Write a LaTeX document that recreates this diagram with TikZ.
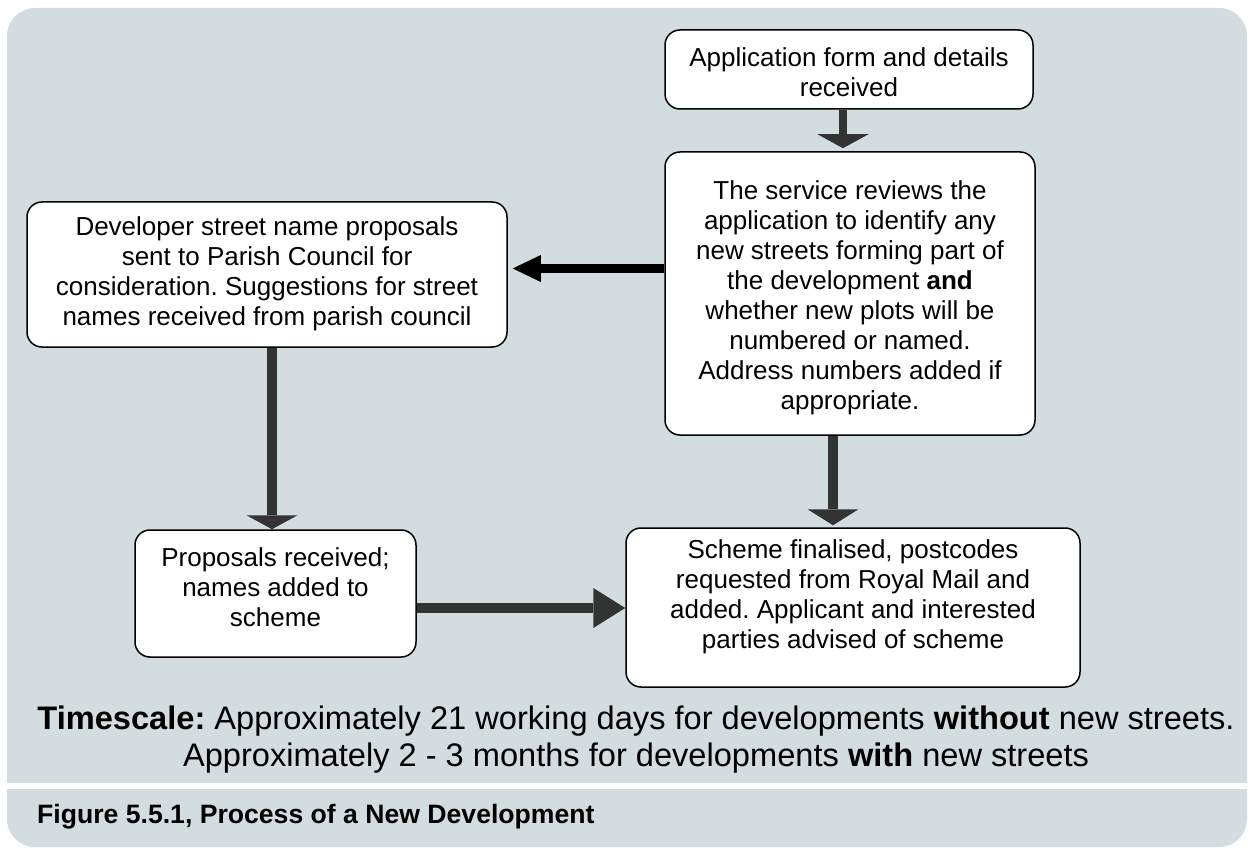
\documentclass[tikz,border=0pt]{standalone}
\usepackage{fontspec}
\setmainfont{Liberation Sans}
\usetikzlibrary{arrows.meta}
\definecolor{panel}{RGB}{211,220,222}
\definecolor{arrgray}{RGB}{51,51,51}
\frenchspacing
\begin{document}
\begin{tikzpicture}[x=1pt,y=-1pt,
  box/.style={draw=black, line width=1.5pt, fill=white, rounded corners=15pt, inner sep=0pt},
  txt/.style={align=center, font=\fontsize{26}{30}\selectfont, inner sep=0pt},
  garrow/.style={draw=arrgray, line width=10pt},
  karrow/.style={draw=black, line width=9pt}
]
\useasboundingbox (0,0) rectangle (1254,848);
\fill[panel, rounded corners=28pt] (7,8) rectangle (1247,847);
\fill[white] (7,783) rectangle (1247,789);

% boxes
\node[box, minimum width=368pt, minimum height=79pt] (A) at (849,69.5) {};
\node[box, minimum width=370pt, minimum height=283pt] (B) at (850,293.5) {};
\node[box, minimum width=480pt, minimum height=145pt] (C) at (267,274.5) {};
\node[box, minimum width=281pt, minimum height=127pt] (D) at (275.5,593.5) {};
\node[box, minimum width=454pt, minimum height=159pt] (E) at (853,607.5) {};

% texts
\node[txt] (At) at (849,72.5) {Application form and details\\received};
\node[txt] (Bt) at (850,297.5) {The service reviews the\\application to identify any\\new streets forming part of\\the development \textbf{and}\\whether new plots will be\\numbered or named.\\Address numbers added if\\appropriate.};
\node[txt] (Ct) at (267,274) {Developer street name proposals\\sent to Parish Council for\\consideration. Suggestions for street\\names received from parish council};
\node[txt] (Dt) at (275.5,587) {Proposals received;\\names added to\\scheme};
\node[txt] (Et) at (853,597) {Scheme finalised, postcodes\\requested from Royal Mail and\\added. Applicant and interested\\parties advised of scheme};

% helper coordinates
\coordinate (xab) at (843,0);
\coordinate (ybc) at (0,268.5);
\coordinate (xcd) at (272,0);
\coordinate (xbe) at (833,0);
\coordinate (yde) at (0,608);

% connectors
\draw[garrow, line width=8pt, -{Triangle[width=51pt,length=14pt,line width=0pt]}, shorten >=3pt]
  (A.south -| xab) -- (B.north -| xab);
\draw[karrow, -{Triangle[width=27pt,length=28pt,line width=0pt]}, shorten >=5pt]
  (B.west |- ybc) -- (C.east |- ybc);
\draw[garrow, -{Triangle[width=51pt,length=14pt,line width=0pt]}]
  (C.south -| xcd) -- (D.north -| xcd);
\draw[garrow, -{Triangle[width=51pt,length=16pt,line width=0pt]}, shorten >=2pt]
  (B.south -| xbe) -- (E.north -| xbe);
\draw[garrow, -{Triangle[width=40pt,length=32pt,line width=0pt]}]
  (D.east |- yde) -- (E.west |- yde);

% bottom texts
\node[align=center, font=\fontsize{32.6}{37}\selectfont, inner sep=0pt] (ts) at (636,740)
  {\textbf{Timescale:} Approximately 21 working days for developments \textbf{without} new streets.\\Approximately 2 - 3 months for developments \textbf{with} new streets};
\node[font=\bfseries\fontsize{26.6}{30}\selectfont, anchor=base west, inner sep=0pt] (cap) at (37,823)
  {Figure 5.5.1, Process of a New Development};
\end{tikzpicture}
\end{document}
